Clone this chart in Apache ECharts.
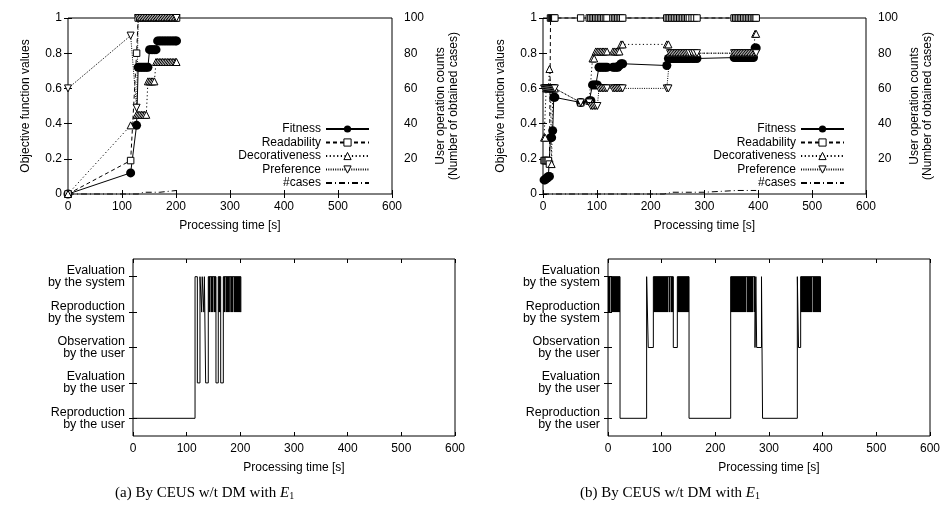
<!DOCTYPE html>
<html><head><meta charset="utf-8">
<script src="https://cdn.jsdelivr.net/npm/echarts@6/dist/echarts.min.js"></script>
<style>html,body{margin:0;padding:0;background:#fff}#c{width:942px;height:506px}</style>
</head><body><div id="c"></div>
<script>
// ---------- data: panel (a) ----------
const timesA = [0,116,127,130,133,136,139,142,145,148,151,154,157,160,163,166,169,172,175,178,181,184,187,190,193,196,199,201];
const fitA  = [0,0.12,0.39,0.72,0.72,0.72,0.72,0.72,0.72,0.72,0.82,0.82,0.82,0.82,0.82,0.87,0.87,0.87,0.87,0.87,0.87,0.87,0.87,0.87,0.87,0.87,0.87,0.87];
const readA = [0,0.19,0.8,1,1,1,1,1,1,1,1,1,1,1,1,1,1,1,1,1,1,1,1,1,1,1,1,1];
const decoA = [0,0.39,0.45,0.45,0.45,0.45,0.45,0.45,0.45,0.64,0.64,0.64,0.64,0.64,0.75,0.75,0.75,0.75,0.75,0.75,0.75,0.75,0.75,0.75,0.75,0.75,0.75,0.75];
const prefA = [0.6,0.9,0.49,1,1,1,1,1,1,1,1,1,1,1,1,1,1,1,1,1,1,1,1,1,1,1,1,1];
const casesTA = [0,130,140,170,201];
const casesA  = [0,0,1,1,2];
const stepTA = [0,115.6,119.9,124.8,128,129,132,133,135.4,140.3,154.6,158.9,163.4,168.3,201];
const stepLA = [0,4,1,4,3,4,3,4,1,4,1,4,1,4,3];
const blocksA = [[140.3,144.5],[145.2,149.4],[150.1,154.6],[158.9,163.4],[168.3,171.5],[172.2,180.5],[181.2,187],[187.7,201]];

// ---------- data: panel (b) ----------
const timesB = [2,4,6,8,10,12,14,16,18,20,22, 70, 86,89,92,95,98,101,104,107,110,113,116,119, 130,133,136,139,142,145,148,
  230,233,236,239,242,245,248,251,254,257,260,263,266,269,272, 277,281,286, 355,358,361,364,367,370,373,376,379,382,385,388,391, 394,396];
const fitB = [0.08,0.08,0.09,0.09,0.1,0.1,0.32,0.32,0.36,0.55,0.55, 0.52, 0.53,0.53,0.62,0.62,0.62,0.62,0.72,0.72,0.72,0.72,0.72,0.72,
  0.72,0.72,0.72,0.72,0.73,0.74,0.74, 0.73,0.77,0.77,0.77,0.77,0.77,0.77,0.77,0.77,0.77,0.77,0.77,0.77,0.77,0.77, 0.77,0.77,0.77,
  0.775,0.775,0.775,0.775,0.775,0.775,0.775,0.775,0.775,0.775,0.775,0.775,0.775, 0.83,0.83];
const readB = [0.19,0.19,0.19,0.19,0.19,0.17,1,1,1,1,1, 1, 1,1,1,1,1,1,1,1,1,1,1,1, 1,1,1,1,1,1,1,
  1,1,1,1,1,1,1,1,1,1,1,1,1,1,1, 1,1,1, 1,1,1,1,1,1,1,1,1,1,1,1,1, 1,1];
const decoB = [0.32,0.32,0.6,0.6,0.6,0.71,0.6,0.17,0.6,0.6,0.6, 0.52, 0.53,0.53,0.77,0.77,0.81,0.81,0.81,0.81,0.81,0.81,0.81,0.81,
  0.81,0.81,0.81,0.81,0.81,0.85,0.85, 0.85,0.85,0.8,0.8,0.8,0.8,0.8,0.8,0.8,0.8,0.8,0.8,0.8,0.8,0.8, 0.8,0.8,0.8,
  0.8,0.8,0.8,0.8,0.8,0.8,0.8,0.8,0.8,0.8,0.8,0.8,0.8, 0.91,0.91];
const prefB = [0.6,0.6,0.6,0.6,0.6,0.6,0.6,0.6,0.6,0.6,0.6, 0.52, 0.52,0.5,0.5,0.5,0.5,0.5,0.6,0.6,0.6,0.6,0.6,0.6,
  0.6,0.6,0.6,0.6,0.6,0.6,0.6, 0.6,0.6,0.8,0.8,0.8,0.8,0.8,0.8,0.8,0.8,0.8,0.8,0.8,0.8,0.8, 0.8,0.8,0.8,
  0.8,0.8,0.8,0.8,0.8,0.8,0.8,0.8,0.8,0.8,0.8,0.8,0.8, 0.8,0.8];
const casesTB = [0,225,240,300,360,396];
const casesB  = [0,0,1,1,2,2];
const stepTB = [0,22.4,72,75,84.5,121.7,129.2,151,228.6,273.9,275.5,277,286,288,352.8,355,359,396];
const stepLB = [4,0,4,2,4,2,4,0,4,2,4,2,4,0,4,2,4,3];
const blocksB = [[0,4],[4.8,22.4],[84.5,112],[112.8,116.5],[117.3,121.7],[129.2,151],[228.6,258],[258.8,270.5],[271.3,273.9],[359,381],[381.8,396]];

// ---------- labels ----------
const seriesNames = ['Fitness','Readability','Decorativeness','Preference','#cases'];
const states = ['Reproduction\nby the user','Evaluation\nby the user','Observation\nby the user','Reproduction\nby the system','Evaluation\nby the system'];
const xTitle = 'Processing time [s]';
const yTitleL = 'Objective function values';
const yTitleR = 'User operation counts\n(Number of obtained cases)';

const FONT = 'Liberation Sans';
const TRI_UP = 'path://M5,0L10,8.66L0,8.66Z';
const TRI_DN = 'path://M0,0L10,0L5,8.66Z';

const chart = echarts.init(document.getElementById('c'), null, {renderer:'canvas'});

const grids = [
  {left:68, top:18, width:324, height:176},
  {left:543, top:18, width:323, height:176},
  {left:133, top:259, width:322, height:177},
  {left:608, top:259, width:322, height:177}
].map(g => Object.assign(g, {show:true, borderColor:'#000', borderWidth:1, backgroundColor:'transparent', outerBoundsMode:'none', containLabel:false}));

const lbl = {color:'#000', fontFamily:FONT, fontSize:12};
const tick = {show:true, inside:true, length:4, lineStyle:{color:'#000', width:1}};

function xAx(gi, top, withName){
  return {type:'value', gridIndex:gi, position: top?'top':'bottom', min:0, max:600, interval:100,
    axisLine:{show:false}, splitLine:{show:false}, axisTick:tick,
    axisLabel: top ? {show:false} : Object.assign({margin:7}, lbl),
    name: withName ? xTitle : '', nameLocation:'middle', nameGap:26,
    nameTextStyle:{color:'#000', fontFamily:FONT, fontSize:12}};
}
function yObj(gi){
  return {type:'value', gridIndex:gi, position:'left', min:0, max:1, interval:0.2,
    axisLine:{show:false}, splitLine:{show:false}, axisTick:tick,
    axisLabel:Object.assign({margin:6}, lbl),
    name:yTitleL, nameLocation:'middle', nameRotate:90, nameGap:36,
    nameTextStyle:{color:'#000', fontFamily:FONT, fontSize:12}};
}
function yCnt(gi){
  return {type:'value', gridIndex:gi, position:'right', min:0, max:100, interval:20,
    axisLine:{show:false}, splitLine:{show:false}, axisTick:tick,
    axisLabel:Object.assign({margin:12, formatter:v => v===0 ? '' : String(v)}, lbl),
    name:yTitleR, nameLocation:'middle', nameRotate:90, nameGap:42,
    nameTextStyle:{color:'#000', fontFamily:FONT, fontSize:12, lineHeight:13}};
}
function yCat(gi, right){
  return {type:'category', gridIndex:gi, position: right?'right':'left', data:states, boundaryGap:true,
    axisLine:{show:false}, splitLine:{show:false},
    axisTick:Object.assign({alignWithLabel:true}, tick),
    axisLabel: right ? {show:false} : Object.assign({margin:8, lineHeight:12, align:'right'}, lbl, {fontSize:12.5})};
}

const xAxis = [xAx(0,false,true), xAx(0,true,false), xAx(1,false,true), xAx(1,true,false),
               xAx(2,false,true), xAx(2,true,false), xAx(3,false,true), xAx(3,true,false)];
const yAxis = [yObj(0), yCnt(0), yObj(1), yCnt(1), yCat(2,false), yCat(2,true), yCat(3,false), yCat(3,true)];

const styles = {
  'Fitness':       {symbol:'circle', symbolSize:9, item:{color:'#000'}, line:{color:'#000', width:1, type:'solid'}},
  'Readability':   {symbol:'rect', symbolSize:6.5, item:{color:'#fff', borderColor:'#000', borderWidth:1}, line:{color:'#000', width:1, type:[4,3]}},
  'Decorativeness':{symbol:TRI_UP, symbolSize:7, item:{color:'#fff', borderColor:'#000', borderWidth:1}, line:{color:'#000', width:1, type:[1.2,2.5]}},
  'Preference':    {symbol:TRI_DN, symbolSize:7, item:{color:'#fff', borderColor:'#000', borderWidth:1}, line:{color:'#000', width:1, type:[1,1.3]}},
  '#cases':        {symbol:'none', symbolSize:0, item:{color:'rgba(0,0,0,0)', borderWidth:0}, line:{color:'#000', width:1, type:[6,3,1,3]}}
};

function objSeries(name, gi, times, vals, yIdx){
  const s = styles[name];
  return {type:'line', name, xAxisIndex:gi*2, yAxisIndex:yIdx, data: times.map((t,i)=>[t, vals[i]]),
    symbol:s.symbol, symbolSize:s.symbolSize, showSymbol: s.symbol!=='none', itemStyle:s.item, lineStyle:s.line,
    emphasis:{disabled:true}, clip:false, z:3, animation:false};
}
function stepSeries(gi, xi, yi, times, levels){
  return {type:'line', name:'state'+gi, xAxisIndex:xi, yAxisIndex:yi, step:'start', symbol:'none',
    data: times.map((t,i)=>[t, levels[i]]), lineStyle:{color:'#000', width:1}, itemStyle:{color:'#000'},
    emphasis:{disabled:true}, animation:false, z:3};
}
function blockSeries(xi, yi, blocks){
  return {type:'custom', xAxisIndex:xi, yAxisIndex:yi, encode:{x:[0,1], y:2}, animation:false, z:2,
    data: blocks.map(b => [b[0], b[1], 3]),
    renderItem:(params, api) => {
      const p0 = api.coord([api.value(0), 3]);
      const p1 = api.coord([api.value(1), 4]);
      return {type:'rect', shape:{x:p0[0], y:p1[1], width:p1[0]-p0[0], height:p0[1]-p1[1]}, style:{fill:'#000'}};
    }};
}

const series = [
  objSeries('Fitness',0,timesA,fitA,0), objSeries('Readability',0,timesA,readA,0),
  objSeries('Decorativeness',0,timesA,decoA,0), objSeries('Preference',0,timesA,prefA,0),
  objSeries('#cases',0,casesTA,casesA,1),
  objSeries('Fitness',1,timesB,fitB,2), objSeries('Readability',1,timesB,readB,2),
  objSeries('Decorativeness',1,timesB,decoB,2), objSeries('Preference',1,timesB,prefB,2),
  objSeries('#cases',1,casesTB,casesB,3),
  blockSeries(4,4,blocksA), stepSeries(2,4,4,stepTA,stepLA),
  blockSeries(6,6,blocksB), stepSeries(3,6,6,stepTB,stepLB)
];

function legend(right){
  return {orient:'vertical', align:'right', right, top:118, itemWidth:43, itemHeight:9, itemGap:1.5,
    selectedMode:false, data:seriesNames, icon:'inherit',
    itemStyle:{borderWidth:1},
    textStyle:{color:'#000', fontFamily:FONT, fontSize:12, padding:[0,0,0,0]}};
}

const capRich = {
  n:{fontFamily:'Liberation Serif', fontSize:15, fontWeight:'normal', color:'#000'},
  i:{fontFamily:'Liberation Serif', fontSize:15, fontStyle:'italic', fontWeight:'normal', color:'#000'},
  s:{fontFamily:'Liberation Serif', fontSize:10, fontWeight:'normal', color:'#000', verticalAlign:'bottom', padding:[6,0,0,0]}
};

chart.setOption({
  backgroundColor:'#fff',
  animation:false,
  grid:grids, xAxis, yAxis, series,
  legend:[legend(567), legend(92)],
  title:[
    {text:'{n|(a) By CEUS w/t DM with }{i|E}{s|1}', left:110, top:480, textStyle:{fontWeight:'normal', rich:capRich}},
    {text:'{n|(b) By CEUS w/t DM with }{i|E}{s|1}', left:575, top:480, textStyle:{fontWeight:'normal', rich:capRich}}
  ]
});
</script>
</body></html>
